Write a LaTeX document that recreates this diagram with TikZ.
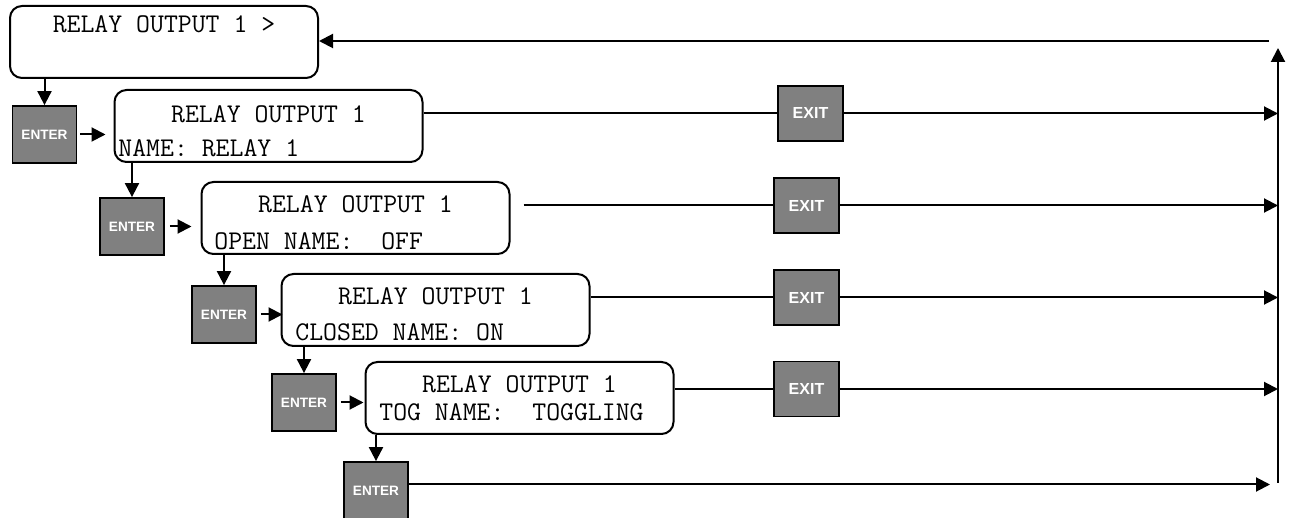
\documentclass[tikz,border=0pt]{standalone}
\usepackage{fontspec}
\setmainfont{Liberation Serif}
\setsansfont{Liberation Sans}
\usetikzlibrary{arrows.meta}
\definecolor{keyfill}{HTML}{808080}
\tikzset{
  menu screen/.style={draw,line width=1pt,rounded corners=6pt,minimum width=154pt,minimum height=36pt,inner sep=0pt},
  menu text/.style={inner sep=0pt,font=\ttfamily\fontsize{13.5}{15}\selectfont\frenchspacing},
  menu key/.style={draw,line width=.9pt,fill=keyfill,text=white,inner sep=0pt,minimum width=32pt,minimum height=28.5pt,font=\sffamily\bfseries\fontsize{6.8}{7}\selectfont},
  menu exit/.style={menu key,minimum width=32.5pt,minimum height=27.5pt,font=\sffamily\bfseries\fontsize{8}{9}\selectfont},
  menu line/.style={line width=1pt},
  menu arrow/.style={line width=1pt,-{Triangle[length=7pt,width=7pt]}}
}
\begin{document}
\begin{tikzpicture}[x=.5pt,y=-.5pt]
  \useasboundingbox (0,0) rectangle (1292,518);
  \node[menu screen] (top) at (164,42) {};
  \node[menu text,anchor=base] (topa) at (164,33) {RELAY OUTPUT 1 >};
  \node[menu screen] (scr1) at (268.5,126) {};
  \node[menu text,anchor=base] (scr1a) at (268.5,123) {RELAY OUTPUT 1};
  \node[menu text,anchor=base west] (scr1b) at (118,157) {NAME: RELAY 1};
  \node[menu screen] (scr2) at (355.5,218) {};
  \node[menu text,anchor=base] (scr2a) at (355.5,213) {RELAY OUTPUT 1};
  \node[menu text,anchor=base west] (scr2b) at (214,250) {OPEN NAME:~~OFF};
  \node[menu screen] (scr3) at (435.5,310) {};
  \node[menu text,anchor=base] (scr3a) at (435.5,305) {RELAY OUTPUT 1};
  \node[menu text,anchor=base west] (scr3b) at (295,341) {CLOSED NAME: ON};
  \node[menu screen] (scr4) at (519.5,398) {};
  \node[menu text,anchor=base] (scr4a) at (519.5,393) {RELAY OUTPUT 1};
  \node[menu text,anchor=base west] (scr4b) at (379,421) {TOG NAME:~~TOGGLING};
  \node[menu key] (enter1) at (44.5,134.5) {ENTER};
  \node[menu key] (enter2) at (132,226.5) {ENTER};
  \node[menu key] (enter3) at (224,314.5) {ENTER};
  \node[menu key] (enter4) at (304,402.5) {ENTER};
  \node[menu key] (enter5) at (376,490.5) {ENTER};
  \node[menu exit] (exit1) at (810.5,113.5) {EXIT};
  \node[menu exit] (exit2) at (806.5,205.5) {EXIT};
  \node[menu exit] (exit3) at (806.5,297.5) {EXIT};
  \node[menu exit] (exit4) at (806.5,389) {EXIT};
  \coordinate (rail) at (1278,48);
  \coordinate (railend) at (1278,483);
  \coordinate (back) at (1269,41);
  \foreach \a/\b in {top/enter1,scr1/enter2,scr2/enter3,scr3/enter4,scr4/enter5}
    \draw[menu arrow] (\b.north |- \a.south) -- (\b.north);
  \foreach \i/\s/\e in {1/1.5pt/4pt,2/2.5pt/4.5pt,3/2pt/-1pt,4/2pt/.5pt}{
    \draw[menu arrow,shorten <=\s,shorten >=\e] (enter\i.east) -- (enter\i.east -| scr\i.west);
  }
  \foreach \i/\s in {1/0pt,2/6.5pt,3/0pt,4/0pt}{
    \draw[menu line,shorten <=\s] (exit\i.west -| scr\i.east) -- (exit\i.west);
    \draw[menu arrow] (exit\i.east) -- (exit\i.east -| rail);
  }
  \draw[menu arrow,shorten >=4pt] ([yshift=3pt]enter5.east) -- ([yshift=3pt]enter5.east -| rail);
  \draw[menu arrow] (railend) -- (rail);
  \draw[menu arrow] (back) -- (back -| top.east);
\end{tikzpicture}
\end{document}
